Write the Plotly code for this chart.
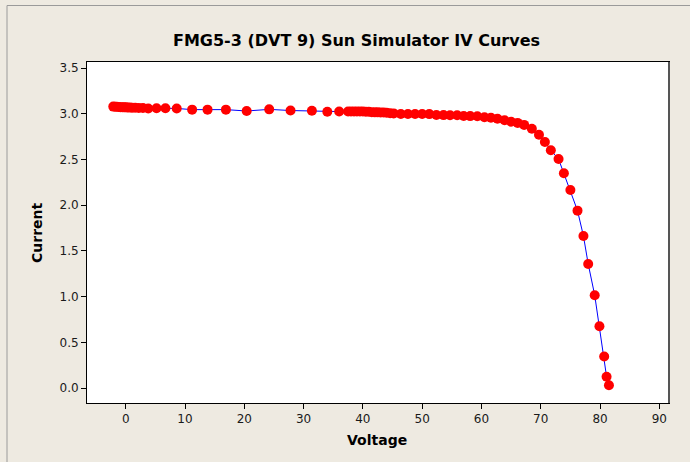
import plotly.graph_objects as go

voltage = [-2.1, -1.8, -1.5, -1.2, -0.9, -0.6, -0.3, 0.0, 0.3, 0.7, 1.1, 1.6, 2.2, 2.9,
           3.8, 5.2, 6.7, 8.6, 11.2, 13.8, 16.9, 20.4, 24.2, 27.8, 31.4, 34.0, 36.0,
           37.5, 38.0, 38.5, 39.0, 39.5, 40.0, 40.5, 41.0, 41.5, 42.0, 42.5, 43.0, 43.5,
           44.0, 44.6, 45.2, 46.4, 47.6, 48.8, 50.0, 51.2, 52.4, 53.6, 54.7, 55.9, 57.0,
           58.1, 59.3, 60.5, 61.6, 62.7, 63.9, 65.0, 66.1, 67.2, 68.5, 69.7, 70.7, 71.7,
           73.0, 73.9, 75.0, 76.2, 77.2, 78.0, 79.1, 79.9, 80.7, 81.1, 81.5]
current = [3.078, 3.077, 3.076, 3.075, 3.072, 3.071, 3.070, 3.070, 3.069, 3.067, 3.066,
           3.065, 3.064, 3.063, 3.057, 3.060, 3.060, 3.058, 3.045, 3.045, 3.045, 3.030,
           3.048, 3.035, 3.032, 3.022, 3.025, 3.025, 3.025, 3.025, 3.024, 3.024, 3.024,
           3.023, 3.022, 3.016, 3.015, 3.015, 3.014, 3.013, 3.012, 3.006, 3.004, 2.998,
           2.998, 2.997, 2.997, 2.996, 2.986, 2.985, 2.984, 2.983, 2.975, 2.974, 2.972,
           2.962, 2.957, 2.945, 2.928, 2.912, 2.900, 2.878, 2.835, 2.770, 2.690, 2.600,
           2.505, 2.350, 2.165, 1.940, 1.663, 1.357, 1.015, 0.676, 0.345, 0.124, 0.030]

x_ticks = [0, 10, 20, 30, 40, 50, 60, 70, 80, 90]
y_ticks = [0.0, 0.5, 1.0, 1.5, 2.0, 2.5, 3.0, 3.5]

title_text = "FMG5-3 (DVT 9) Sun Simulator IV Curves"
x_title = "Voltage"
y_title = "Current"

FONT = "DejaVu Sans"
BG = "#EEEAE1"

fig = go.Figure()
fig.add_trace(go.Scatter(
    x=voltage, y=current, mode="lines+markers",
    line=dict(color="#0000FF", width=1),
    marker=dict(color="#FF0000", size=10, line=dict(width=0)),
    showlegend=False,
))

# plot area in px: left 87, right 669, top 62, bottom 403
L, R, T, B = 87, 669, 62, 403
W, H = R - L, B - T
def px(xp):
    return (xp - L) / W
def py(yp):
    return (B - yp) / H

fig.update_layout(
    width=690, height=462,
    margin=dict(l=L, r=690 - R, t=T, b=462 - B),
    paper_bgcolor=BG, plot_bgcolor="white",
    font=dict(family=FONT, size=12, color="#1a1a1a"),
    xaxis=dict(
        range=[-6.53, 91.63], tickvals=x_ticks, ticktext=[str(v) for v in x_ticks],
        showgrid=False, zeroline=False, showline=True, linecolor="black", linewidth=1,
        mirror=True, ticks="outside", ticklen=5, tickcolor="black",
        tickfont=dict(family=FONT, size=12, color="#1a1a1a"),
    ),
    yaxis=dict(
        range=[-0.164, 3.566], tickvals=y_ticks, ticktext=[f"{v:.1f}" for v in y_ticks],
        showgrid=False, zeroline=False, showline=True, linecolor="black", linewidth=1,
        mirror=True, ticks="outside", ticklen=5, tickcolor="black",
        tickfont=dict(family=FONT, size=12, color="#1a1a1a"),
    ),
    annotations=[
        dict(text=f"<b>{title_text}</b>", xref="paper", yref="paper",
             x=px(356), y=py(40), xanchor="center", yanchor="middle",
             showarrow=False, font=dict(family=FONT, size=16, color="black")),
        dict(text=f"<b>{x_title}</b>", xref="paper", yref="paper",
             x=px(377), y=py(440), xanchor="center", yanchor="middle",
             showarrow=False, font=dict(family=FONT, size=14, color="black")),
        dict(text=f"<b>{y_title}</b>", xref="paper", yref="paper",
             x=px(37), y=py(233), xanchor="center", yanchor="middle", textangle=-90,
             showarrow=False, font=dict(family=FONT, size=14, color="black")),
    ],
    shapes=[
        dict(type="line", xref="paper", yref="paper", x0=1, x1=1, y0=0, y1=1,
             line=dict(color="#555555", width=2)),
        dict(type="line", xref="paper", yref="paper", x0=px(7), x1=px(7),
             y0=py(5.5), y1=py(470), line=dict(color="#9a9a9a", width=1)),
        dict(type="line", xref="paper", yref="paper", x0=px(7), x1=px(700),
             y0=py(5.5), y1=py(5.5), line=dict(color="#9a9a9a", width=1)),
    ],
)

fig.write_html("out.html")
